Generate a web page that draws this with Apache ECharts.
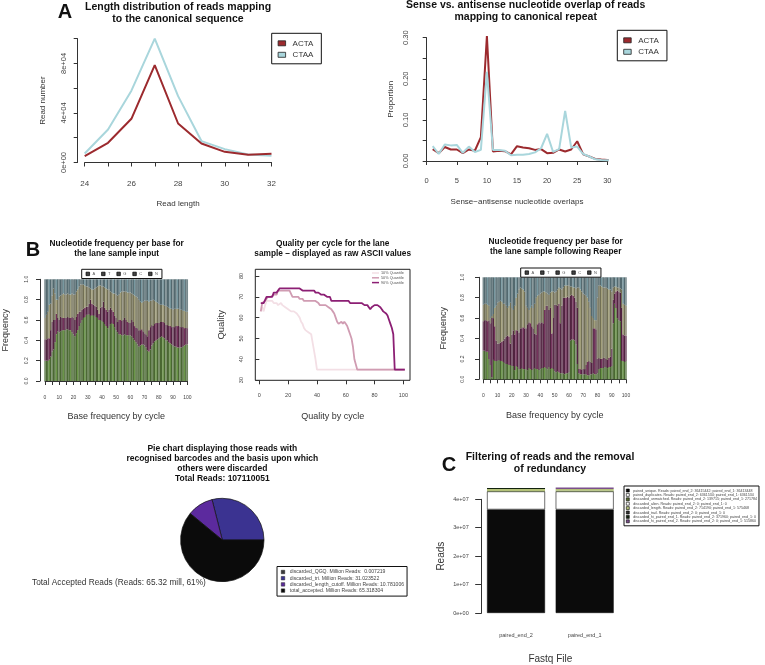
<!DOCTYPE html>
<html><head><meta charset="utf-8">
<style>html,body{margin:0;padding:0;background:#fff}#c{width:765px;height:665px}</style>
<script src="https://cdn.jsdelivr.net/npm/echarts@6/dist/echarts.min.js"></script>
</head><body><div id="c"></div>
<script>
const lenCats=[24,25,26,27,28,29,30,31,32];
const lenACTA=[5100,15900,35300,78700,31500,15400,8600,6200,7000];
const lenCTAA=[7300,26700,58000,100000,53600,17300,10800,6500,5400];
const ovX=[1,2,3,4,5,6,7,8,9,10,11,12,13,14,15,16,17,18,19,20,21,22,23,24,25,26,27,28,29,30,31,32];
const ovACTA=[.029,.019,.034,.028,.028,.019,.028,.025,.058,.304,.023,.025,.024,.016,.036,.033,.031,.027,.029,.019,.020,.028,.023,.028,.048,.016,.011,.005,.0035,.0025,.001,0];
const ovCTAA=[.036,.017,.040,.038,.039,.020,.035,.022,.027,.217,.027,.027,.025,.014,.015,.015,.017,.021,.031,.066,.022,.029,.122,.033,.035,.017,.011,.004,.0025,.002,.001,0];
const inputATop=[.20,.20,.20,.21,.24,.29,.31,.38,.46,.49,
.48,.49,.50,.50,.50,.51,.51,.50,.50,.48,
.46,.44,.47,.50,.54,.57,.60,.62,.63,.65,
.65,.66,.64,.65,.64,.65,.63,.62,.60,.60,
.59,.58,.56,.54,.52,.54,.56,.57,.56,.53,
.50,.48,.46,.46,.45,.45,.46,.45,.45,.45,
.45,.44,.42,.40,.38,.36,.34,.35,.36,.36,
.35,.33,.30,.29,.31,.35,.37,.39,.40,.41,
.42,.43,.44,.43,.42,.40,.40,.38,.37,.36,
.35,.34,.34,.33,.33,.33,.33,.34,.35,.36,.36];
const inputTTop=[.41,.41,.42,.42,.50,.58,.60,.60,.66,.62,
.60,.63,.62,.62,.62,.62,.63,.62,.62,.63,
.62,.60,.63,.66,.68,.68,.70,.71,.72,.73,
.73,.76,.80,.76,.75,.74,.73,.70,.66,.72,
.73,.78,.72,.70,.68,.70,.72,.70,.68,.64,
.62,.58,.60,.60,.59,.60,.62,.60,.58,.57,
.57,.60,.58,.54,.52,.52,.50,.50,.51,.49,
.47,.46,.44,.50,.53,.55,.54,.56,.57,.57,
.57,.58,.58,.58,.57,.55,.55,.54,.54,.53,
.53,.53,.54,.54,.54,.53,.53,.53,.52,.52,.52];
const inputGTop=[.62,.65,.68,.75,.76,.84,.91,.86,.80,.80,
.83,.84,.85,.86,.85,.85,.86,.85,.85,.86,
.85,.85,.88,.90,.93,.95,.95,.95,.94,.93,
.93,.92,.91,.90,.90,.91,.92,.93,.94,.94,
.93,.93,.92,.91,.90,.90,.88,.87,.86,.86,
.85,.84,.85,.87,.88,.88,.88,.88,.87,.87,
.87,.86,.85,.84,.83,.82,.80,.78,.77,.78,
.79,.79,.79,.78,.79,.79,.80,.79,.78,.77,
.76,.75,.75,.75,.74,.74,.73,.72,.71,.71,
.70,.71,.71,.71,.71,.70,.70,.69,.69,.68,.68];
const reaperATop=[.28,.28,.27,.27,.20,.14,.02,.19,.18,.18,
.18,.19,.18,.18,.17,.16,.15,.15,.14,.14,
.13,.13,.09,.13,.12,.10,.10,.11,.10,.10,
.10,.09,.11,.10,.09,.10,.11,.10,.10,.09,
.10,.11,.11,.12,.11,.10,.12,.10,.11,.10,
.08,.07,.08,.07,.06,.06,.06,.05,.06,.06,
.07,.38,.39,.39,.38,.34,.15,.06,.05,.05,
.05,.05,.05,.04,.04,.05,.05,.06,.05,.05,
.06,.10,.11,.11,.11,.12,.12,.11,.12,.12,
.13,.55,.74,.70,.60,.58,.57,.18,.18,.17,.18];
const reaperTTop=[.57,.58,.58,.57,.58,.55,.60,.60,.52,.38,
.35,.35,.36,.37,.38,.40,.42,.43,.42,.35,
.44,.48,.44,.48,.48,.46,.50,.50,.51,.50,
.50,.54,.56,.55,.52,.50,.45,.44,.54,.56,
.55,.56,.55,.68,.72,.72,.68,.70,.45,.60,
.73,.73,.72,.74,.55,.72,.80,.80,.80,.81,
.80,.82,.83,.82,.80,.76,.70,.10,.10,.09,
.10,.10,.14,.17,.18,.17,.16,.50,.50,.49,
.20,.21,.20,.20,.21,.21,.20,.19,.21,.22,
.30,.78,.84,.86,.87,.86,.85,.70,.44,.43,.43];
const reaperGTop=[.73,.74,.74,.73,.72,.60,.62,.64,.70,.72,
.75,.76,.77,.76,.74,.74,.72,.70,.72,.75,
.70,.68,.72,.80,.84,.88,.90,.89,.88,.86,
.72,.70,.68,.70,.72,.70,.74,.80,.82,.83,
.84,.85,.86,.86,.85,.84,.83,.85,.86,.86,
.85,.86,.88,.90,.89,.88,.90,.92,.92,.92,
.92,.91,.91,.90,.90,.89,.90,.90,.88,.86,
.84,.83,.82,.80,.76,.70,.62,.60,.58,.58,
.80,.92,.92,.91,.90,.90,.90,.89,.88,.88,
.86,.90,.91,.91,.90,.90,.89,.88,.74,.73,.72];
const q10=[63,65,63,66,68,68,68,68,68,67,67,67,66,66,67,66,66,65,65,64,64,63,63,63,63,62,61,60,58,57,55,54,54,53,53,52,48,44,40,35,35,35,35,35,35,35,35,35,35,35,35,35,35,35,35,35,35,35,35,35,35,35,35,35,35,35,35,35,35,35,35,35,35,35,35,35,35,35,35,35,35,35,35,35,35,35,35,35,35,35,35,35,35,35,35,35,35,35,35,35,35];
const q50=[63,67,67,68,68,70,70,70,70,71,71,71,73,73,73,73,73,73,73,73,73,73,70,70,70,70,70,69,69,69,68,68,68,68,68,68,68,68,68,68,67,66,66,66,66,66,66,65,65,64,63,62,60,58,57,57,58,57,58,57,56,54,52,50,46,40,40,35,35,35,35,35,35,35,35,35,35,35,35,35,35,35,35,35,35,35,35,35,35,35,35,35,35,35,35,35,35,35,35,35,35];
const q90=[67,67,67,67,70,70,70,70,70,72,72,72,72,74,74,74,74,74,74,74,74,74,74,74,74,74,74,74,74,73,73,73,73,73,73,73,73,73,72,72,72,72,71,71,71,71,70,70,70,68,68,68,68,68,68,68,68,68,68,68,68,68,67,67,67,67,67,67,67,67,67,67,66,66,66,65,64,65,65,66,66,66,66,65,64,63,63,62,61,59,57,55,52,35,35,35,35,35,35,35,35];
const pieNames=['discarded_QGQ. Million Reads:  0.007219','discarded_tri. Million Reads: 31.023522','discarded_length_cutoff. Million Reads: 10.781006','total_accepted. Million Reads: 65.318304'];
const pieVals=[0.007219,31.023522,10.781006,65.318304];
const fqFiles=['paired_end_2','paired_end_1'];
const fqNames=['paired_unique. Reads: paired_end_2: 36415442; paired_end_1: 36413448','paired_duplicates. Reads: paired_end_2: 6361534; paired_end_1: 6361534','discarded_unmatched. Reads: paired_end_2: 139715; paired_end_1: 271784','discarded_alien. Reads: paired_end_2: 0; paired_end_1: 0','discarded_length. Reads: paired_end_2: 714190; paired_end_1: 575468','discarded_trail. Reads: paired_end_2: 0; paired_end_1: 0','discarded_hi_paired_end_1. Reads: paired_end_2: 371960; paired_end_1: 0','discarded_hi_paired_end_2. Reads: paired_end_2: 0; paired_end_1: 515860'];
const fqEnd2=[36415442,6361534,139715,0,714190,0,371960,0];
const fqEnd1=[36413448,6361534,271784,0,575468,0,0,515860];
const nucNames=['A','T','G','C','N'];
const colACTA='#9c2a2e',colCTAA='#a9d6dc';
const nucCols=['#4a6832','#512340','#716f55','#53696f','#3f4f4f'];
const qCols=['#f3dfe5','#d09cb2','#8c1f74'];
const pieCols=['#3a3a3a','#3b3391','#5c2a9e','#0b0b0b'];
const fqCols=['#0b0b0b','#ffffff','#55692f','#ffffff','#b3c178','#333333','#12220e','#7a4f8c'];
const gray='#444';
const font='"Liberation Sans",Arial,sans-serif';

function T(text,x,y,size,opt){opt=opt||{};
 return {text:text,left:x,top:y,textAlign:opt.align||'center',padding:0,
  textStyle:{fontFamily:font,fontSize:size,fontWeight:opt.w||'bold',color:opt.c||'#111',lineHeight:opt.lh||size*1.2}};}
const titles=[
 T('A',65,0,20),T('B',33,238,20),T('C',449,453,20),
 T('Length distribution of reads mapping\nto the canonical sequence',178,1,10.5,{lh:12}),
 T('Sense vs. antisense nucleotide overlap of reads\nmapping to canonical repeat',525.7,-1,10.5,{lh:12}),
 T('Nucleotide frequency per base for\nthe lane sample input',116.7,239,8.3,{lh:10}),
 T('Quality per cycle for the lane\nsample – displayed as raw ASCII values',332.7,239,8.3,{lh:10}),
 T('Nucleotide frequency per base for\nthe lane sample following Reaper',555.7,237,8.3,{lh:10}),
 T('Pie chart displaying those reads with\nrecognised barcodes and the basis upon which\nothers were discarded\nTotal Reads: 107110051',222.3,444,8.5,{lh:10}),
 T('Filtering of reads and the removal\nof redundancy',550,450.5,10.5,{lh:12.5}),
 T('Total Accepted Reads (Reads: 65.32 mill, 61%)',32,578,8.3,{align:'left',w:'normal',c:'#333'})
];
const grids=[
 {left:84.7,width:186.8,top:38.7,height:123.8},
 {left:426.7,width:180.6,top:37.7,height:123.3},
 {left:44.3,width:143,top:279.3,height:101.7},
 {left:255.3,width:154.7,top:269.3,height:111,show:true,borderColor:'#222',borderWidth:1,backgroundColor:'transparent'},
 {left:483.3,width:142.7,top:277.3,height:102},
 {left:481.7,width:137.3,top:499.3,height:116.4}
];
const line={show:true,lineStyle:{color:'#333',width:1}};
const tick={show:true,length:4,lineStyle:{color:'#333',width:1}};
function nm(size,gap){return {nameLocation:'middle',nameGap:gap,nameTextStyle:{fontFamily:font,fontSize:size,color:'#333'}};}
function lab(size,m,rot,fmt){const l={show:true,fontFamily:font,fontSize:size,color:gray,margin:m,rotate:rot||0};if(fmt)l.formatter=fmt;return l;}
const sci=v=>v===0?'0e+00':v.toExponential(0).replace('e+','e+0');
const every=k=>(v=>Math.round(v)%k===0?String(v):'');
const cycles=inputATop.map((_,k)=>String(k));
const catX=(i,margin,gap)=>Object.assign({type:'category',gridIndex:i,data:cycles,boundaryGap:false,name:'Base frequency by cycle',axisLine:line,
  axisTick:Object.assign({},tick,{interval:4}),splitLine:{show:false},axisLabel:Object.assign(lab(5,margin),{interval:9})},nm(9,gap));
const xAxes=[
 Object.assign({type:'value',gridIndex:0,min:24,max:32,interval:1,offset:5.5,name:'Read length',axisLine:line,axisTick:tick,splitLine:{show:false},axisLabel:lab(8,11.5,0,every(2))},nm(8,31.5)),
 Object.assign({type:'value',gridIndex:1,min:0,max:30,interval:5,offset:4.7,name:'Sense−antisense nucleotide overlaps',axisLine:line,axisTick:tick,splitLine:{show:false},axisLabel:lab(7.5,11)},nm(8,32)),
 catX(2,14.5,31),
 Object.assign({type:'value',gridIndex:3,min:-2.8,max:104.6,name:'Quality by cycle',axisLine:{show:false},axisTick:Object.assign({},tick,{customValues:[0,20,40,60,80,100]}),splitLine:{show:false},axisLabel:Object.assign(lab(5.5,12),{customValues:[0,20,40,60,80,100]})},nm(9,32)),
 catX(4,13.5,32),
 Object.assign({type:'category',gridIndex:5,data:fqFiles,name:'Fastq File',axisLine:{show:false},axisTick:{show:false},axisLabel:lab(5.5,19)},nm(10,41))
];
const yAxes=[
 Object.assign({type:'value',gridIndex:0,min:0,max:100000,interval:20000,offset:7,name:'Read number',axisLine:line,axisTick:tick,splitLine:{show:false},axisLabel:lab(7.5,10,90,v=>(v/40000)%1===0?sci(v):'')},nm(8,31)),
 Object.assign({type:'value',gridIndex:1,min:0,max:.3,interval:.05,offset:7,name:'Proportion',axisLine:line,axisTick:tick,splitLine:{show:false},axisLabel:lab(7.5,10,90,v=>Math.round(v*100)%10===0?v.toFixed(2):'')},nm(8,25)),
 Object.assign({type:'value',gridIndex:2,min:0,max:1,interval:.2,offset:5,name:'Frequency',axisLine:line,axisTick:tick,splitLine:{show:false},axisLabel:lab(5,11,90,v=>v.toFixed(1))},nm(9,30)),
 Object.assign({type:'value',gridIndex:3,min:29.9,max:83.2,name:'Quality',axisLine:{show:false},axisTick:Object.assign({},tick,{customValues:[30,40,50,60,70,80]}),splitLine:{show:false},axisLabel:Object.assign(lab(5.5,11,90),{customValues:[30,40,50,60,70,80]})},nm(9.5,29)),
 Object.assign({type:'value',gridIndex:4,min:0,max:1,interval:.2,offset:4.3,name:'Frequency',axisLine:line,axisTick:tick,splitLine:{show:false},axisLabel:lab(5,14,90,v=>v.toFixed(1))},nm(9,31)),
 Object.assign({type:'value',gridIndex:5,min:0,max:4e7,interval:1e7,name:'Reads',axisLine:line,axisTick:Object.assign({},tick,{length:6.5}),splitLine:{show:false},axisLabel:lab(5.5,13,0,sci)},nm(10,35))
];
function ln(name,i,xs,ys,c,w){return {type:'line',name:name,xAxisIndex:i,yAxisIndex:i,data:xs.map((x,k)=>[x,ys[k]]),showSymbol:false,symbol:'none',clip:false,lineStyle:{color:c,width:w||2},itemStyle:{color:c},animation:false};}
const series=[
 ln('CTAA',0,lenCats,lenCTAA,colCTAA),ln('ACTA',0,lenCats,lenACTA,colACTA),
 ln('ACTA',1,ovX,ovACTA,colACTA),ln('CTAA',1,ovX,ovCTAA,colCTAA)
];
function stripe(c,k){ // mimic the reference's dark and light rasterised stripes
 if(k%5===0) return echarts.color.lift(c,.22);
 if(k%5===3) return echarts.color.lift(c,-.45);
 return c;
}
function stackNuc(i,a,t,g,id){
 const layers=[a,t.map((v,k)=>v-a[k]),g.map((v,k)=>v-t[k]),g.map(v=>1-v),g.map(()=>0)];
 layers.forEach((vals,n)=>series.push({type:'bar',name:nucNames[n],xAxisIndex:i,yAxisIndex:i,stack:id,barWidth:1.5,clip:false,animation:false,
   itemStyle:{color:nucCols[n]},
   data:vals.map((v,k)=>({value:v,itemStyle:{color:stripe(nucCols[n],k)}}))}));
}
stackNuc(2,inputATop,inputTTop,inputGTop,'in');
stackNuc(4,reaperATop,reaperTTop,reaperGTop,'re');
const cyc=q10.map((_,k)=>k+1);
series.push(ln('10% Quantile',3,cyc,q10,qCols[0],1.8),ln('50% Quantile',3,cyc,q50,qCols[1],1.8),ln('90% Quantile',3,cyc,q90,qCols[2],1.8));
series.push({type:'pie',center:[222.3,540],radius:[0,41.7],startAngle:0,clockwise:false,animation:false,label:{show:false},labelLine:{show:false},
  itemStyle:{borderColor:'#111',borderWidth:.7},data:pieNames.map((n,k)=>({name:n,value:pieVals[k],itemStyle:{color:pieCols[k]}}))});
fqNames.forEach((n,k)=>series.push({type:'bar',name:n,xAxisIndex:5,yAxisIndex:5,stack:'fq',barWidth:58,clip:false,animation:false,
  data:[fqEnd2[k],fqEnd1[k]],itemStyle:{color:fqCols[k],borderColor:'#111',borderWidth:k<2?.6:0}}));

const boxLeg=(o)=>Object.assign({show:true,backgroundColor:'#fff',borderColor:'#111',borderWidth:1,icon:'rect',selectedMode:false,inactiveColor:'#000'},o);
const lineLeg=(x,y)=>boxLeg({left:x,top:y,width:46,orient:'vertical',data:['ACTA','CTAA'],padding:[6,8,5,6],itemGap:3.5,itemWidth:7.5,itemHeight:5,
  itemStyle:{borderColor:'#222',borderWidth:.8},lineStyle:{width:0},textStyle:{fontFamily:font,fontSize:8,color:'#333',padding:[0,0,0,2]}});
const nucLeg=(x,y)=>boxLeg({left:x,top:y,orient:'horizontal',data:nucNames,padding:[2.5,4,2.5,4],itemGap:6,itemWidth:3.5,itemHeight:3.5,
  itemStyle:{color:'#444',borderColor:'#000',borderWidth:.7},textStyle:{fontFamily:font,fontSize:4,color:'#555',padding:[0,0,0,-2]}});
const legends=[
 lineLeg(271.7,33.3),lineLeg(617.3,30.3),
 nucLeg(81.7,269.3),nucLeg(520.7,268),
 {show:true,icon:'rect',selectedMode:false,left:372,top:271,orient:'vertical',data:['10% Quantile','50% Quantile','90% Quantile'],padding:0,itemGap:.8,itemWidth:7,itemHeight:1.5,textStyle:{fontFamily:font,fontSize:3.8,color:'#555',padding:[0,0,0,-3]}},
 boxLeg({left:277,top:566.5,orient:'vertical',data:pieNames,padding:[3,3,3,4],itemGap:1.2,itemWidth:3.5,itemHeight:3.5,itemStyle:{borderColor:'#222',borderWidth:.5},textStyle:{fontFamily:font,fontSize:5.1,color:'#444'}}),
 boxLeg({left:624,top:486,orient:'vertical',data:fqNames,padding:[2.5,2,2.5,2],itemGap:.4,itemWidth:3,itemHeight:3,itemStyle:{borderColor:'#000',borderWidth:.6},textStyle:{fontFamily:font,fontSize:3.6,color:'#444',padding:[0,0,0,-1]}})
];
const chart=echarts.init(document.getElementById('c'),null,{renderer:'canvas'});
chart.setOption({animation:false,backgroundColor:'#fff',textStyle:{fontFamily:font},title:titles,grid:grids,xAxis:xAxes,yAxis:yAxes,legend:legends,series:series});
</script></body></html>
